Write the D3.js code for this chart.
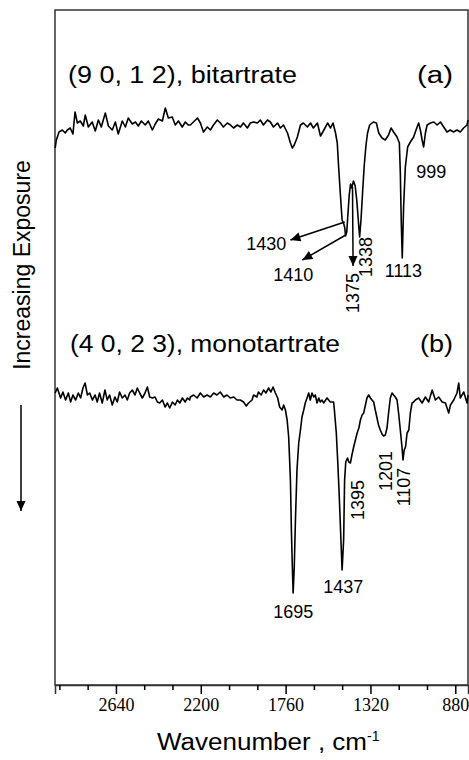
<!DOCTYPE html>
<html>
<head>
<meta charset="utf-8">
<script src="https://cdn.jsdelivr.net/npm/d3@7"></script>
<style>
  body { margin: 0; background: #fff; }
  svg { display: block; }
</style>
</head>
<body>
<div id="chart"></div>
<script>
// spectra: [wavenumber (cm-1), signal relative to baseline]
var spectrumA = [
  [2955, -25], [2949, -17], [2935, -9], [2918, -7], [2903, -10], [2892, -7], [2877, -5],
  [2863, -11], [2852, 11], [2840, 0], [2825, 2], [2809, -3], [2799, 8], [2783, -4],
  [2763, 1], [2747, -8], [2731, 3], [2716, -4], [2695, 10], [2679, -3], [2659, -7],
  [2643, 1], [2628, -11], [2607, 2], [2591, -4], [2576, 5], [2555, -1], [2539, 1],
  [2524, -3], [2508, 2], [2488, -2], [2472, 2], [2451, -7], [2436, -1], [2420, 4],
  [2399, 2], [2384, 15], [2368, 5], [2348, 6], [2332, -2], [2316, 2], [2296, -4],
  [2280, 1], [2265, -2], [2254, -2], [2238, 1], [2217, 5], [2202, 0], [2186, -9],
  [2166, -4], [2150, -7], [2134, -2], [2114, 3], [2098, 0], [2083, -4], [2062, 0],
  [2046, -2], [2030, -5], [2010, -2], [1994, -4], [1979, 0], [1958, -5], [1943, 0],
  [1927, 1], [1906, 0], [1891, 3], [1875, -2], [1854, 3], [1839, 1], [1823, -4],
  [1802, 0], [1787, -5], [1771, -2], [1750, -10], [1735, -20], [1725, -25], [1715, -22],
  [1699, -14], [1683, -2], [1668, 0], [1647, -4], [1631, 0], [1616, -5], [1595, 0],
  [1579, -13], [1567, -9], [1553, -4], [1542, 0], [1527, -5], [1514, 0], [1501, -10],
  [1492, -20], [1485, -44], [1475, -74], [1467, -97], [1458, -101], [1453, -105],
  [1449, -113], [1443, -109], [1437, -92], [1430, -72], [1423, -61], [1417, -65],
  [1408, -58], [1399, -63], [1391, -77], [1383, -97], [1376, -114], [1369, -97],
  [1360, -67], [1352, -42], [1343, -22], [1335, -10], [1324, -2], [1305, 1], [1289, 0],
  [1277, -10], [1260, -15], [1243, -17], [1226, -12], [1213, -5], [1200, -9], [1182, -14],
  [1170, -20], [1165, -50], [1160, -100], [1155, -135], [1148, -84], [1139, -44],
  [1127, -24], [1113, -19], [1096, -14], [1078, -4], [1070, 0], [1061, -7], [1052, -17],
  [1044, -24], [1035, -10], [1026, -2], [1009, 0], [991, 1], [974, -2], [957, 1],
  [940, -4], [923, -9], [906, -7], [889, -9], [871, -7], [854, -9], [837, -5],
  [819, -2], [814, 3]
];

var spectrumB = [
  [2955, 4], [2944, 9], [2927, -1], [2915, 5], [2901, -3], [2887, 4], [2875, -5],
  [2863, 2], [2849, -3], [2835, 4], [2823, -1], [2811, 9], [2800, 14], [2788, 2],
  [2776, 4], [2762, -3], [2748, 2], [2737, -5], [2725, 4], [2711, -6], [2697, 7],
  [2685, -3], [2673, 2], [2659, -8], [2645, 0], [2633, -5], [2621, 5], [2607, -1],
  [2593, 2], [2581, -3], [2569, 4], [2555, 7], [2541, 2], [2529, 9], [2517, 4],
  [2503, -1], [2489, 4], [2477, 10], [2465, 0], [2451, -1], [2437, 0], [2425, -5],
  [2413, -6], [2399, -3], [2385, -10], [2373, -6], [2361, -11], [2347, -5], [2333, -8],
  [2321, -3], [2309, -6], [2295, -1], [2281, -5], [2269, -1], [2258, -3], [2254, 0],
  [2237, 2], [2219, -1], [2202, 4], [2185, 0], [2167, 2], [2150, 0], [2133, 4],
  [2116, 2], [2099, 5], [2081, 0], [2064, 2], [2047, -1], [2029, 0], [2012, -3],
  [1995, -3], [1978, -5], [1964, -9], [1952, -6], [1934, -3], [1926, 2], [1909, 0],
  [1901, 5], [1887, 2], [1874, 7], [1862, 4], [1848, 9], [1836, 5], [1825, 10],
  [1813, 4], [1801, -1], [1791, -10], [1778, -13], [1770, -8], [1761, -13], [1752, -23],
  [1744, -40], [1735, -83], [1730, -133], [1725, -170], [1721, -196], [1715, -170],
  [1709, -123], [1701, -73], [1692, -46], [1683, -33], [1675, -20], [1666, -13],
  [1658, -6], [1649, -1], [1640, 4], [1632, -3], [1623, 4], [1614, 0], [1606, 2],
  [1597, -6], [1588, -1], [1580, -5], [1571, -3], [1563, -6], [1545, -1], [1528, -5],
  [1511, -5], [1507, -13], [1497, -36], [1490, -63], [1483, -93], [1475, -133],
  [1467, -173], [1459, -143], [1454, -83], [1448, -65], [1439, -61], [1432, -65],
  [1424, -66], [1416, -58], [1407, -50], [1398, -43], [1389, -36], [1380, -31],
  [1372, -23], [1363, -18], [1355, -16], [1346, -8], [1338, -1], [1329, 2], [1320, -1],
  [1312, -3], [1303, -5], [1295, -13], [1286, -21], [1278, -28], [1269, -33], [1260, -37],
  [1252, -39], [1243, -38], [1234, -31], [1226, -16], [1217, -1], [1208, 4], [1200, 2],
  [1191, 0], [1182, -3], [1174, -16], [1165, -33], [1156, -51], [1151, -63], [1145, -53],
  [1138, -50], [1130, -36], [1121, -33], [1113, -16], [1104, -6], [1096, -5], [1087, -3],
  [1070, -1], [1052, -6], [1035, 0], [1018, -5], [1000, 7], [983, -3], [966, 0],
  [948, -5], [931, -6], [914, -16], [905, -8], [888, -3], [871, 4], [862, 14],
  [854, -1], [836, 5], [819, -6], [814, 2]
];

var offsetA = 562, offsetB = 288;

var majorTicks = [2640, 2200, 1760, 1320, 880];
var minorTicks = [2933.3, 2786.7, 2493.3, 2346.7, 2053.3, 1906.7, 1613.3, 1466.7, 1173.3, 1026.7];

// peak labels: wavenumber, signal, text, rotated?
var labelsA = [
  [1860, -127, '1430', false],
  [1720, -158, '1410', false],
  [1411, -170, '1375', true],
  [1346, -134, '1338', true],
  [1149, -154, '1113', false],
  [1004, -55, '999', false]
];
var labelsB = [
  [1720, -221, '1695', false],
  [1461, -196, '1437', false],
  [1385, -103, '1395', true],
  [1243, -74, '1201', true],
  [1147, -90, '1107', true]
];
// arrows in panel (a): from [w, v] to [w, v]
var arrowsA = [
  [[1453, -99], [1735, -117]],
  [[1448, -112], [1673, -137]],
  [[1413, -64], [1410, -143]]
];

var svg = d3.select('#chart').append('svg')
    .attr('width', 469)
    .attr('height', 760),
  margin = {top: 10, right: 1, bottom: 75, left: 55},
  width = +svg.attr('width') - margin.left - margin.right,
  height = +svg.attr('height') - margin.top - margin.bottom,
  g = svg.append('g').attr('transform', 'translate(' + margin.left + ',' + margin.top + ')');

var defs = svg.append('defs');
defs.append('marker')
  .attr('id', 'head')
  .attr('viewBox', '0 -5 10 10')
  .attr('refX', 10)
  .attr('refY', 0)
  .attr('markerUnits', 'userSpaceOnUse')
  .attr('markerWidth', 11)
  .attr('markerHeight', 10)
  .attr('orient', 'auto')
  .append('path')
  .attr('d', 'M0,-4.5L10,0L0,4.5Z')
  .attr('fill', '#000');

var x = d3.scaleLinear().domain([2956, 814]).range([0, width]);
var y = d3.scaleLinear().domain([0, 675]).range([height, 0]);

var line = function (offset) {
  return d3.line()
    .x(function (d) { return x(d[0]); })
    .y(function (d) { return y(offset + d[1]); });
};

// frame
g.append('rect')
  .attr('x', 0).attr('y', 0)
  .attr('width', width).attr('height', height)
  .attr('fill', 'none')
  .attr('stroke', '#333')
  .attr('stroke-width', 1.5);

var xAxis = g.append('g')
  .attr('class', 'axis axis--x')
  .attr('transform', 'translate(0,' + height + ')')
  .call(d3.axisBottom(x).tickValues(majorTicks).tickSize(9).tickPadding(4).tickFormat(d3.format('d')));
xAxis.select('.domain').attr('stroke', '#333').attr('stroke-width', 1.5);
xAxis.selectAll('.tick line').attr('stroke', '#000').attr('stroke-width', 1.5);
xAxis.selectAll('.tick text')
  .attr('font-family', '"Liberation Serif", "Times New Roman", serif')
  .attr('font-size', 18)
  .attr('fill', '#000');

g.append('g')
  .attr('transform', 'translate(0,' + height + ')')
  .call(d3.axisBottom(x).tickValues(minorTicks).tickSize(5).tickFormat(''))
  .call(function (s) { s.select('.domain').remove(); })
  .selectAll('.tick line').attr('stroke', '#000').attr('stroke-width', 1.5);

// spectra
g.append('path')
  .datum(spectrumA)
  .attr('d', line(offsetA))
  .attr('fill', 'none')
  .attr('stroke', '#000')
  .attr('stroke-width', 1.6)
  .attr('stroke-linejoin', 'round');

g.append('path')
  .datum(spectrumB)
  .attr('d', line(offsetB))
  .attr('fill', 'none')
  .attr('stroke', '#000')
  .attr('stroke-width', 1.6)
  .attr('stroke-linejoin', 'round');

// arrows
g.selectAll('.peak-arrow')
  .data(arrowsA)
  .enter().append('line')
  .attr('class', 'peak-arrow')
  .attr('x1', function (d) { return x(d[0][0]); })
  .attr('y1', function (d) { return y(offsetA + d[0][1]); })
  .attr('x2', function (d) { return x(d[1][0]); })
  .attr('y2', function (d) { return y(offsetA + d[1][1]); })
  .attr('stroke', '#000')
  .attr('stroke-width', 1.5)
  .attr('marker-end', 'url(#head)');

function drawLabels(labels, offset) {
  g.selectAll(null)
    .data(labels)
    .enter().append('text')
    .attr('transform', function (d) {
      var t = 'translate(' + x(d[0]) + ',' + y(offset + d[1]) + ')';
      return d[3] ? t + ' rotate(-90)' : t;
    })
    .attr('dy', function (d) { return d[3] ? '0.36em' : 0; })
    .attr('text-anchor', 'middle')
    .style('font', '18px "Liberation Sans", Arial, sans-serif')
    .text(function (d) { return d[2]; });
}
drawLabels(labelsA, offsetA);
drawLabels(labelsB, offsetB);

// panel titles
var titleFont = '23px "Liberation Sans", Arial, sans-serif';
function title(tx, ty, anchor, len, txt) {
  g.append('text')
    .attr('x', tx).attr('y', ty)
    .attr('text-anchor', anchor)
    .attr('textLength', len)
    .attr('lengthAdjust', 'spacingAndGlyphs')
    .style('font', titleFont)
    .text(txt);
}
title(13, 73, 'start', 229, '(9 0, 1 2), bitartrate');
title(398, 73, 'end', 36, '(a)');
title(15, 342, 'start', 270, '(4 0, 2 3), monotartrate');
title(398, 342, 'end', 33, '(b)');

// axis title
var xt = svg.append('text')
  .attr('x', 157)
  .attr('y', 750)
  .style('font', '23px "Liberation Sans", Arial, sans-serif');
xt.append('tspan')
  .attr('textLength', 210)
  .attr('lengthAdjust', 'spacingAndGlyphs')
  .text('Wavenumber , cm');
xt.append('tspan').attr('dy', -9).style('font-size', '14px').text('-1');

// increasing exposure
svg.append('text')
  .attr('transform', 'translate(22,265) rotate(-90)')
  .attr('dy', '0.35em')
  .attr('text-anchor', 'middle')
  .style('font', '23px "Liberation Sans", Arial, sans-serif')
  .text('Increasing Exposure');

svg.append('line')
  .attr('x1', 21).attr('y1', 405)
  .attr('x2', 21).attr('y2', 511)
  .attr('stroke', '#000')
  .attr('stroke-width', 1.5)
  .attr('marker-end', 'url(#head)');
</script>
</body>
</html>
